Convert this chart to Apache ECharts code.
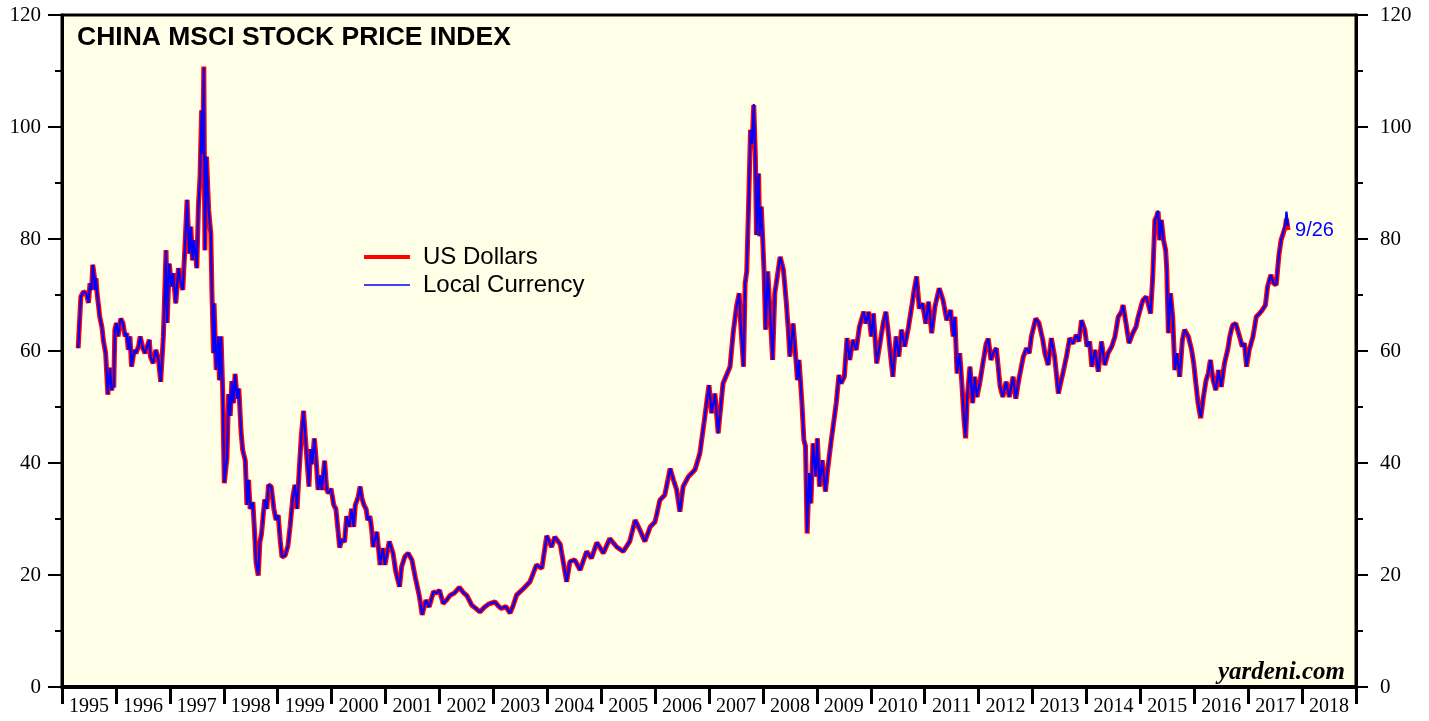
<!DOCTYPE html>
<html>
<head>
<meta charset="utf-8">
<title>China MSCI Stock Price Index</title>
<script src="https://cdn.jsdelivr.net/npm/echarts@6/dist/echarts.min.js"></script>
<style>
  html, body { margin: 0; padding: 0; background: #fff; }
  #main { width: 1429px; height: 721px; }
</style>
</head>
<body>
<div id="main"></div>
<script>
// year labels on the bottom axis (one cell per year)
var yearLabels = ['1995','1996','1997','1998','1999','2000','2001','2002','2003','2004','2005','2006',
  '2007','2008','2009','2010','2011','2012','2013','2014','2015','2016','2017','2018'];

var dates = [
  1995.30,1995.35,1995.40,1995.45,1995.49,1995.52,1995.55,1995.57,1995.60,1995.61,1995.63,1995.65,1995.68,1995.70,1995.74,1995.77,1995.81,1995.85,1995.89,1995.92,1995.94,1995.96,1995.98,
  1996.01,1996.04,1996.09,1996.13,1996.17,1996.20,1996.23,1996.26,1996.29,1996.34,1996.37,1996.42,1996.45,1996.50,1996.54,1996.58,1996.62,1996.64,1996.69,1996.74,1996.79,1996.83,1996.88,1996.93,1996.95,1996.99,
  1997.03,1997.06,1997.11,1997.16,1997.20,1997.24,1997.28,1997.32,1997.36,1997.39,1997.42,1997.45,1997.50,1997.53,1997.56,1997.59,1997.61,1997.63,1997.65,1997.68,1997.72,1997.76,1997.78,1997.81,1997.82,1997.86,1997.90,1997.92,1997.95,1997.98,
  1998.01,1998.06,1998.09,1998.12,1998.15,1998.18,1998.21,1998.25,1998.28,1998.32,1998.35,1998.40,1998.43,1998.46,1998.49,1998.54,1998.57,1998.60,1998.64,1998.67,1998.70,1998.73,1998.76,1998.80,1998.83,1998.88,1998.93,1998.97,
  1999.01,1999.05,1999.08,1999.14,1999.19,1999.23,1999.28,1999.32,1999.36,1999.40,1999.44,1999.48,1999.51,1999.54,1999.58,1999.61,1999.64,1999.68,1999.71,1999.75,1999.79,1999.82,1999.87,1999.91,1999.94,1999.99,
  2000.04,2000.08,2000.12,2000.15,2000.19,2000.24,2000.28,2000.33,2000.37,2000.41,2000.44,2000.49,2000.53,2000.56,2000.60,2000.64,2000.67,2000.71,2000.74,2000.77,2000.84,2000.90,2000.95,2000.99,
  2001.07,2001.14,2001.19,2001.26,2001.30,2001.36,2001.42,2001.49,2001.55,2001.63,2001.68,2001.75,2001.81,2001.89,2001.95,
  2002.00,2002.07,2002.14,2002.20,2002.28,2002.37,2002.44,2002.51,2002.60,2002.68,2002.75,2002.83,2002.91,
  2003.03,2003.09,2003.15,2003.23,2003.31,2003.37,2003.43,2003.56,2003.68,2003.80,2003.90,2003.99,
  2004.08,2004.14,2004.24,2004.36,2004.42,2004.51,2004.61,2004.73,2004.82,2004.92,
  2005.04,2005.16,2005.29,2005.41,2005.53,2005.63,2005.72,2005.81,2005.91,
  2006.00,2006.09,2006.18,2006.28,2006.34,2006.40,2006.46,2006.52,2006.62,2006.74,2006.83,2006.89,
  2007.00,2007.05,2007.11,2007.17,2007.26,2007.39,2007.45,2007.51,2007.56,2007.59,2007.64,2007.67,2007.70,2007.73,2007.77,2007.80,2007.83,2007.86,2007.88,2007.92,2007.94,2007.97,
  2008.02,2008.05,2008.09,2008.13,2008.18,2008.22,2008.32,2008.38,2008.43,2008.47,2008.50,2008.56,2008.59,2008.64,2008.67,2008.72,2008.76,2008.79,2008.82,2008.86,2008.89,2008.93,2008.98,
  2009.01,2009.05,2009.10,2009.16,2009.20,2009.26,2009.31,2009.36,2009.41,2009.45,2009.51,2009.56,2009.61,2009.67,2009.73,2009.79,2009.87,2009.91,2009.96,
  2010.01,2010.05,2010.11,2010.17,2010.23,2010.28,2010.32,2010.37,2010.41,2010.47,2010.52,2010.57,2010.63,2010.70,2010.76,2010.80,2010.85,2010.90,2010.96,
  2011.02,2011.07,2011.13,2011.19,2011.27,2011.34,2011.41,2011.48,2011.53,2011.56,2011.60,2011.65,2011.69,2011.73,2011.76,2011.79,2011.84,2011.89,2011.93,2011.97,
  2012.02,2012.08,2012.14,2012.18,2012.23,2012.27,2012.33,2012.40,2012.45,2012.51,2012.57,2012.64,2012.69,2012.75,2012.83,2012.89,2012.94,2012.98,
  2013.06,2013.12,2013.19,2013.23,2013.29,2013.35,2013.41,2013.48,2013.52,2013.57,2013.63,2013.69,2013.75,2013.81,2013.86,2013.91,2013.97,
  2014.01,2014.06,2014.10,2014.16,2014.22,2014.28,2014.34,2014.40,2014.47,2014.53,2014.59,2014.65,2014.68,2014.73,2014.79,2014.86,2014.92,2014.96,
  2015.02,2015.05,2015.11,2015.16,2015.19,2015.23,2015.27,2015.30,2015.33,2015.36,2015.39,2015.43,2015.47,2015.49,2015.52,2015.56,2015.60,2015.64,2015.68,2015.73,2015.78,2015.82,2015.89,2015.95,2015.99,
  2016.03,2016.07,2016.12,2016.17,2016.22,2016.26,2016.30,2016.35,2016.40,2016.45,2016.50,2016.56,2016.62,2016.66,2016.71,2016.77,2016.84,2016.89,2016.93,2016.97,
  2017.02,2017.09,2017.15,2017.21,2017.26,2017.32,2017.36,2017.42,2017.47,2017.52,2017.57,2017.61,2017.65,2017.69,2017.71,2017.74
];

// index in US dollars
var usDollars = [
  60.5,69.7,70.6,70.3,68.6,72.1,70.9,75.4,73.3,70.9,73.0,70.3,67.9,66.1,64.3,61.7,59.6,52.2,57.0,53.0,54.0,53.5,63.8,
  65.0,62.6,65.8,65.0,62.6,63.2,60.2,62.6,57.2,60.2,59.6,60.8,62.6,60.5,59.6,60.8,62.0,59.0,57.8,60.2,58.4,54.5,62.6,78.0,65.0,75.6,
  71.5,73.9,68.5,74.8,72.4,70.9,78.6,87.0,77.4,82.2,76.2,79.8,74.8,85.8,91.1,103.0,95.2,110.8,78.0,94.7,85.2,81.0,70.9,59.6,68.5,56.6,62.6,54.8,62.6,53.0,
  36.4,41.0,52.3,48.4,54.6,50.7,55.9,51.5,53.3,45.7,42.4,40.4,32.5,37.0,31.8,33.0,27.9,22.2,19.9,25.9,27.3,30.5,33.5,31.8,36.1,35.8,31.8,29.8,
  30.7,25.9,23.2,23.5,25.2,28.6,33.8,36.1,31.8,38.8,45.0,49.3,45.0,41.1,35.8,42.5,39.8,44.4,41.1,35.2,37.8,35.2,40.4,35.2,34.6,35.4,
  32.5,31.8,27.9,24.9,26.4,25.9,30.5,28.6,31.8,28.6,32.5,33.8,35.8,33.8,32.5,31.8,29.8,30.5,28.5,25.0,27.7,21.8,24.8,21.8,
  26.0,23.9,20.6,17.9,21.5,23.3,23.9,22.7,19.7,16.1,12.9,15.5,14.3,17.0,16.8,
  17.3,14.9,15.6,16.4,16.8,17.8,16.9,16.3,14.6,14.0,13.4,14.2,14.8,
  15.2,14.5,14.0,14.4,13.2,14.6,16.4,17.6,18.8,21.8,21.2,27.0,
  25.0,26.8,25.5,18.8,22.4,22.7,20.9,24.2,23.0,25.8,
  23.9,26.5,25.0,24.2,26.0,29.8,28.0,26.0,28.6,
  29.5,33.4,34.3,39.0,37.0,35.2,31.3,35.8,37.6,38.8,41.7,45.9,
  53.9,48.9,52.4,45.3,54.2,57.2,63.4,67.9,70.3,64.5,57.2,72.1,74.2,84.6,99.5,97.0,103.9,94.7,80.7,91.7,80.5,85.8,
  74.5,63.8,74.2,67.3,58.4,70.3,76.8,74.5,69.1,63.8,59.0,64.9,61.3,54.8,58.4,51.3,44.1,43.0,27.4,38.2,32.8,43.5,37.6,
  44.4,35.8,40.5,34.9,38.8,43.5,47.1,50.7,55.7,54.2,55.4,62.3,58.4,62.0,60.2,64.3,67.0,64.9,67.0,
  62.6,66.7,57.8,61.3,64.9,67.0,63.8,59.0,55.4,62.6,59.0,63.8,60.8,64.3,67.9,70.6,73.3,67.6,68.5,
  64.9,68.8,63.2,67.9,71.2,69.1,65.5,67.3,62.6,66.1,56.0,59.6,54.2,47.7,44.4,51.8,57.2,50.7,55.4,51.8,
  54.2,57.8,61.3,62.2,58.4,59.6,60.5,53.6,51.8,54.5,51.8,55.4,51.5,55.1,59.0,60.5,59.6,62.6,
  65.8,65.0,62.0,59.6,57.5,62.3,59.0,52.4,54.2,56.3,59.0,62.3,61.3,62.9,61.7,65.5,63.8,
  60.8,61.7,57.2,60.2,56.3,61.7,57.5,59.6,60.8,62.6,66.1,67.0,68.2,65.2,61.4,63.2,64.3,66.1,
  68.2,69.1,69.7,67.9,66.7,73.3,83.4,84.0,84.9,79.8,83.4,79.8,78.0,74.5,63.2,70.3,66.1,56.6,59.6,55.4,62.0,63.8,62.6,60.2,57.8,
  54.2,50.7,48.0,51.8,54.8,56.0,58.4,54.8,53.0,56.6,53.6,57.8,60.2,62.6,64.6,64.9,62.6,60.8,61.4,57.2,
  60.2,62.6,66.1,66.7,67.3,68.2,71.5,73.6,72.1,71.8,77.1,79.8,81.0,82.2,83.6,81.6
];

// index in local currency
var localCurrency = [
  60.5,69.7,70.6,70.3,68.6,72.1,70.9,75.4,73.3,70.9,73.0,70.3,67.9,66.1,64.3,61.7,59.6,52.3,57.0,53.0,54.0,53.5,63.8,
  65.0,62.6,65.8,65.0,62.6,63.2,60.2,62.6,57.2,60.2,59.6,60.8,62.6,60.5,59.6,60.8,62.0,59.0,57.8,60.2,58.4,54.5,62.6,78.0,65.0,75.6,
  71.5,73.9,68.5,74.8,72.4,70.9,78.6,87.0,77.4,82.2,76.2,79.8,74.8,85.8,91.1,103.0,95.2,110.6,78.0,94.7,85.2,81.0,70.9,59.6,68.5,56.6,62.6,54.8,62.6,53.0,
  36.5,41.0,52.3,48.4,54.6,50.7,55.9,51.5,53.3,45.7,42.4,40.4,32.5,37.0,31.8,33.0,27.9,22.2,20.0,25.9,27.3,30.5,33.5,31.8,36.1,35.8,31.8,29.8,
  30.7,25.9,23.2,23.5,25.2,28.6,33.8,36.1,31.8,38.8,45.0,49.3,45.0,41.1,35.8,42.5,39.8,44.4,41.1,35.2,37.8,35.2,40.4,35.2,34.6,35.4,
  32.5,31.8,27.9,24.9,26.4,25.9,30.5,28.6,31.8,28.6,32.5,33.8,35.8,33.8,32.5,31.8,29.8,30.5,28.5,25.0,27.7,21.8,24.8,21.8,
  26.0,23.9,20.6,17.9,21.5,23.3,23.9,22.7,19.7,16.1,12.9,15.5,14.3,17.0,16.8,
  17.3,14.9,15.6,16.4,16.8,17.8,16.9,16.3,14.6,14.0,13.4,14.2,14.8,
  15.2,14.5,14.0,14.4,13.2,14.6,16.4,17.6,18.8,21.8,21.2,27.0,
  25.0,26.8,25.5,18.8,22.4,22.7,20.9,24.2,23.0,25.8,
  23.9,26.5,25.0,24.2,26.0,29.8,28.0,26.0,28.6,
  29.5,33.4,34.3,39.0,37.0,35.2,31.3,35.8,37.6,38.8,41.7,45.9,
  53.9,48.9,52.4,45.3,54.2,57.2,63.4,67.9,70.3,64.5,57.2,72.1,74.2,84.6,99.5,97.0,104.1,94.7,80.7,91.7,80.5,85.8,
  74.5,63.8,74.2,67.3,58.4,70.3,76.8,74.5,69.1,63.8,59.0,64.9,61.3,54.8,58.4,51.3,44.1,43.0,27.6,38.2,32.8,43.5,37.6,
  44.4,35.8,40.5,34.9,38.8,43.5,47.1,50.7,55.7,54.2,55.4,62.3,58.4,62.0,60.2,64.3,67.0,64.9,67.0,
  62.6,66.7,57.8,61.3,64.9,67.0,63.8,59.0,55.4,62.6,59.0,63.8,60.8,64.3,67.9,70.6,73.3,67.6,68.5,
  64.9,68.8,63.2,67.9,71.2,69.1,65.5,67.3,62.6,66.1,56.0,59.6,54.2,47.7,44.6,51.8,57.2,50.7,55.4,51.8,
  54.2,57.8,61.3,62.2,58.4,59.6,60.5,53.6,51.8,54.5,51.8,55.4,51.5,55.1,59.0,60.5,59.6,62.6,
  65.8,65.0,62.0,59.6,57.5,62.3,59.0,52.4,54.2,56.3,59.0,62.3,61.3,62.9,61.7,65.5,63.8,
  60.8,61.7,57.2,60.2,56.3,61.7,57.5,59.6,60.8,62.6,66.1,67.0,68.2,65.2,61.4,63.2,64.3,66.1,
  68.2,69.1,69.7,67.9,66.7,73.3,83.4,84.0,85.1,79.8,83.4,79.8,78.0,74.5,63.2,70.3,66.1,56.6,59.6,55.4,62.0,63.8,62.6,60.2,57.8,
  54.2,50.7,48.2,51.8,54.8,56.0,58.4,54.8,53.0,56.6,53.6,57.8,60.2,62.6,64.6,64.9,62.6,60.8,61.4,57.2,
  60.2,62.6,66.1,66.7,67.3,68.2,71.5,73.6,72.1,71.8,77.1,79.8,81.2,82.6,84.9,82.3
];

var lastDateLabel = '9/26';

function pairs(values) {
  var out = [];
  for (var i = 0; i < values.length; i++) {
    out.push([dates[i], values[i]]);
  }
  return out;
}

var myChart = echarts.init(document.getElementById('main'));

var yAxisBase = function (pos, tickLen, margin) {
  return {
    type: 'value',
    position: pos,
    min: 0,
    max: 120,
    interval: 20,
    axisLine: { show: true, lineStyle: { color: '#000', width: 3 } },
    axisTick: { show: true, length: tickLen, lineStyle: { color: '#000', width: 2 } },
    minorTick: { show: true, splitNumber: 2, length: 7, lineStyle: { color: '#000', width: 2 } },
    splitLine: { show: false },
    axisLabel: { color: '#000', fontFamily: 'Liberation Serif', fontSize: 21, margin: margin }
  };
};

myChart.setOption({
  animation: false,
  backgroundColor: '#fff',
  title: {
    text: 'CHINA MSCI STOCK PRICE INDEX',
    left: 77,
    top: 24,
    padding: 0,
    textStyle: { fontFamily: 'Liberation Sans', fontWeight: 'bold', fontSize: 26.5, color: '#000' }
  },
  legend: {
    orient: 'vertical',
    left: 362,
    top: 245,
    padding: 0,
    itemWidth: 46,
    itemHeight: 14,
    itemGap: 4,
    itemStyle: { opacity: 0 },
    textStyle: { fontFamily: 'Liberation Sans', fontSize: 24, color: '#000', padding: [0, 0, 0, 8] },
    data: [
      { name: 'US Dollars', lineStyle: { width: 4 } },
      { name: 'Local Currency', lineStyle: { width: 1.5 } }
    ]
  },
  grid: {
    show: true,
    left: 62,
    right: 73,
    top: 15,
    bottom: 34,
    backgroundColor: '#fffee6',
    borderColor: '#000',
    borderWidth: 3
  },
  xAxis: [
    {
      type: 'category',
      data: yearLabels,
      boundaryGap: true,
      position: 'bottom',
      axisLine: { show: true, lineStyle: { color: '#000', width: 4 } },
      axisTick: { show: true, length: 17, lineStyle: { color: '#000', width: 3 } },
      axisLabel: { interval: 0, color: '#000', fontFamily: 'Liberation Serif', fontSize: 20, margin: 10 },
      splitLine: { show: false }
    },
    {
      type: 'value',
      min: 1995,
      max: 2019,
      show: false
    }
  ],
  yAxis: [yAxisBase('left', 14, 21), yAxisBase('right', 12, 24)],
  graphic: [
    {
      type: 'text',
      right: 84,
      top: 660,
      style: { text: 'yardeni.com', font: 'italic bold 25px "Liberation Serif"', fill: '#000' }
    }
  ],
  series: [
    {
      name: 'US Dollars',
      type: 'line',
      xAxisIndex: 1,
      yAxisIndex: 0,
      symbol: 'none',
      data: pairs(usDollars),
      lineStyle: { color: '#ff0000', width: 5 },
      itemStyle: { color: '#ff0000' }
    },
    {
      name: 'Local Currency',
      type: 'line',
      xAxisIndex: 1,
      yAxisIndex: 0,
      symbol: 'none',
      data: pairs(localCurrency),
      lineStyle: { color: '#0000ff', width: 2.2 },
      itemStyle: { color: '#0000ff' },
      endLabel: {
        show: true,
        formatter: lastDateLabel,
        color: '#0000ff',
        fontFamily: 'Liberation Sans',
        fontSize: 20,
        distance: 7,
        offset: [0, 4]
      }
    }
  ]
});
</script>
</body>
</html>
